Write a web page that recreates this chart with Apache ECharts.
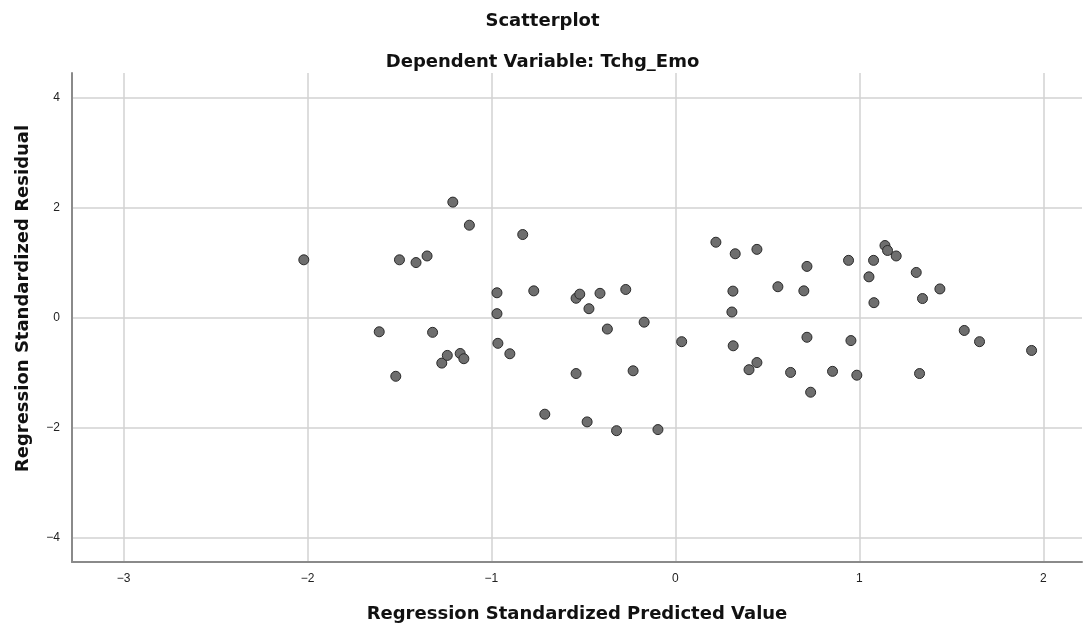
<!DOCTYPE html>
<html>
<head>
<meta charset="utf-8">
<script src="https://cdn.jsdelivr.net/npm/echarts@6/dist/echarts.min.js"></script>
<style>
  html, body { margin: 0; padding: 0; background: #fff; }
  #chart { width: 1085px; height: 630px; }
</style>
</head>
<body>
<div id="chart"></div>
<script>
const chartTitle = 'Scatterplot';
const chartSubtitle = 'Dependent Variable: Tchg_Emo';
const xAxisTitle = 'Regression Standardized Predicted Value';
const yAxisTitle = 'Regression Standardized Residual';

// Regression standardized predicted values (x) and residuals (y)
const predicted = [
  -2.02, -1.61, -1.52, -1.50, -1.41, -1.35, -1.32, -1.27, -1.24, -1.21,
  -1.17, -1.15, -1.12, -0.97, -0.97, -0.965, -0.90, -0.83, -0.77, -0.71,
  -0.54, -0.52, -0.54, -0.48, -0.47, -0.41, -0.37, -0.32, -0.27, -0.23,
  -0.17, -0.095, 0.034, 0.22, 0.307, 0.3125, 0.314, 0.325, 0.40, 0.443,
  0.443, 0.557, 0.626, 0.698, 0.715, 0.715, 0.735, 0.854, 0.941, 0.954,
  0.986, 1.052, 1.077, 1.079, 1.139, 1.153, 1.20, 1.309, 1.327, 1.343,
  1.4375, 1.57, 1.653, 1.936
];
const residual = [
  1.05, -0.26, -1.07, 1.05, 1.00, 1.12, -0.27, -0.83, -0.69, 2.10,
  -0.655, -0.75, 1.68, 0.45, 0.07, -0.47, -0.66, 1.51, 0.485, -1.76,
  0.35, 0.425, -1.02, -1.90, 0.16, 0.44, -0.21, -2.06, 0.51, -0.97,
  -0.085, -2.04, -0.44, 1.37, 0.10, 0.48, -0.515, 1.16, -0.95, 1.24,
  -0.82, 0.56, -1.00, 0.485, 0.93, -0.36, -1.36, -0.98, 1.04, -0.42,
  -1.05, 0.74, 1.04, 0.27, 1.31, 1.22, 1.12, 0.82, -1.02, 0.345,
  0.52, -0.236, -0.44, -0.60
];

const xMin = -3.28, xMax = 2.21;
const yMin = -4.45, yMax = 4.45;

const points = predicted.map((x, i) => [x, residual[i]]);

const fmt = v => Number.isInteger(v) ? String(v).replace('-', '\u2212') : '';
const titleFont = 'DejaVu Sans';

const chart = echarts.init(document.getElementById('chart'), null, { renderer: 'canvas' });
chart.setOption({
  animation: false,
  backgroundColor: '#ffffff',
  textStyle: { fontFamily: 'Liberation Sans' },
  title: [
    { text: chartTitle, left: 'center', top: 7,
      textStyle: { fontSize: 18, fontWeight: 'bold', color: '#111', fontFamily: titleFont } },
    { text: chartSubtitle, left: 'center', top: 48,
      textStyle: { fontSize: 18, fontWeight: 'bold', color: '#111', fontFamily: titleFont } }
  ],
  grid: { left: 72, right: 2, top: 73, bottom: 68, containLabel: false },
  xAxis: {
    type: 'value', min: xMin, max: xMax,
    name: xAxisTitle, nameLocation: 'middle', nameGap: 43,
    nameTextStyle: { fontSize: 18, fontWeight: 'bold', color: '#111', fontFamily: titleFont },
    axisLine: { show: true, onZero: false, lineStyle: { color: '#8a8a8a', width: 2 } },
    axisTick: { show: false },
    axisLabel: { formatter: fmt, color: '#222', fontSize: 12, margin: 11 },
    splitLine: { show: true, showMinLine: false, showMaxLine: false, lineStyle: { color: '#d2d2d2', width: 1.5 } }
  },
  yAxis: {
    type: 'value', min: yMin, max: yMax,
    name: yAxisTitle, nameLocation: 'middle', nameGap: 40,
    nameTextStyle: { fontSize: 18, fontWeight: 'bold', color: '#111', fontFamily: titleFont, padding: [0, 0, 0, 38] },
    axisLine: { show: true, onZero: false, lineStyle: { color: '#8a8a8a', width: 2 } },
    axisTick: { show: false },
    axisLabel: { formatter: fmt, color: '#222', fontSize: 12, margin: 12 },
    splitLine: { show: true, showMinLine: false, showMaxLine: false, lineStyle: { color: '#d2d2d2', width: 1.5 } }
  },
  series: [{
    type: 'scatter',
    data: points,
    symbol: 'circle',
    symbolSize: 10,
    itemStyle: { color: '#6e6e6e', borderColor: '#2a2a2a', borderWidth: 1, opacity: 1 }
  }]
});
</script>
</body>
</html>
